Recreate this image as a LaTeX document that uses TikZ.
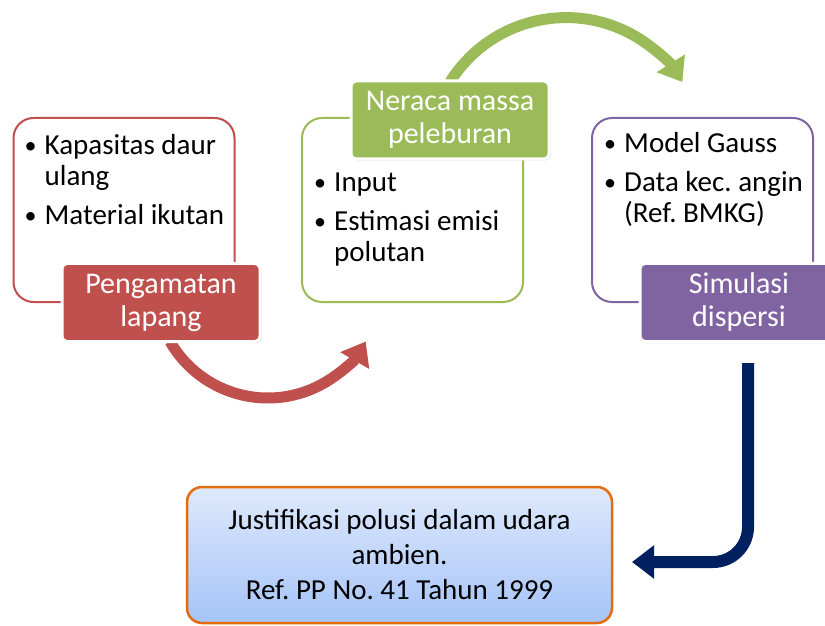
\documentclass[tikz,border=0pt]{standalone}
\usepackage{fontspec}
\setmainfont{Carlito}
\frenchspacing
\usetikzlibrary{arrows.meta,shadows}
\definecolor{obsred}{HTML}{C0504D}
\definecolor{massgreen}{HTML}{9BBB59}
\definecolor{disppurple}{HTML}{8064A2}
\definecolor{navy}{HTML}{002060}
\definecolor{justorange}{HTML}{E46C0A}
\definecolor{justtop}{RGB}{222,233,252}
\definecolor{justbottom}{RGB}{166,196,248}
\newcommand{\itm}{\makebox[20pt][l]{\raisebox{1pt}{\fontsize{24}{24}\selectfont\textbullet}}}
\begin{document}
\begin{tikzpicture}[x=1pt,y=1pt,
  outbox/.style={draw=#1,line width=2pt,fill=white,rounded corners=20pt,minimum width=221pt,minimum height=184pt},
  lblbox/.style={fill=#1,draw=white,line width=3pt,rounded corners=5pt,text=white,align=center,minimum width=198pt,minimum height=78pt,font=\fontsize{30}{33}\selectfont,drop shadow={shadow xshift=1.5pt,shadow yshift=-1.5pt,opacity=0.35}},
  items/.style={anchor=north west,inner sep=0pt,align=left,font=\fontsize{29}{31}\selectfont},
  flow/.style={line width=11pt,draw=#1,-{Triangle[length=22pt,width=32pt]}}]
\useasboundingbox (0,0) rectangle (825,625);
% the three steps
\node[outbox=obsred] (obsB) at (124,415) {};
\node[outbox=massgreen] (massB) at (412.5,415) {};
\node[outbox=disppurple] (dispB) at (702.5,415) {};
\node[items] (obsT) at ([shift={(12,-17)}]obsB.north west) {\itm Kapasitas daur\\\hspace*{20pt}ulang\\[8pt]\itm Material ikutan};
\node[items] (massT) at ([shift={(13,-56)}]massB.north west) {\itm Input\\[8pt]\itm Estimasi emisi\\\hspace*{20pt}polutan};
\node[items] (dispT) at ([shift={(13,-15)}]dispB.north west) {\itm Model Gauss\\[8pt]\itm Data kec. angin\\\hspace*{20pt}(Ref. BMKG)};
\coordinate (blueTip) at (632,63);
% arrows
\draw[flow=obsred] ([xshift=9pt]161,283.5) coordinate (redStart) arc[start angle=210,end angle=330,radius=113];
\draw[flow=massgreen] (450,543) coordinate (greenStart) arc[start angle=148,end angle=32,radius=137];
\node[lblbox=obsred] (obsL) at (161,322.5) {Pengamatan\\lapang};
\node[lblbox=massgreen] (massL) at (450,505) {Neraca massa\\peleburan};
\node[lblbox=disppurple] (dispL) at (739,322.5) {Simulasi\\dispersi};
\draw[flow=navy,line width=12pt,rounded corners=35pt] ([shift={(9,-20)}]dispL.south) |- (blueTip);
% result
\node[draw=justorange,line width=2.5pt,rounded corners=15pt,top color=justtop,bottom color=justbottom,minimum width=425pt,minimum height=136pt,align=center,font=\fontsize{29}{35}\selectfont] (justB) at (399.5,70) {Justifikasi polusi dalam udara\\ambien.\\Ref. PP No. 41 Tahun 1999};
\end{tikzpicture}
\end{document}
